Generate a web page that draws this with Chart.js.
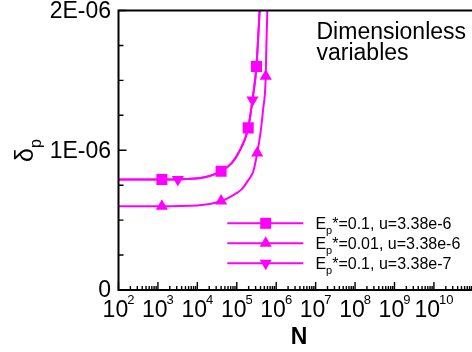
<!DOCTYPE html>
<html><head><meta charset="utf-8">
<script src="https://cdn.jsdelivr.net/npm/chart.js@4/dist/chart.umd.min.js"></script>
<style>
html,body{margin:0;padding:0;overflow:hidden;background:#fff}
#wrap{position:relative;width:560px;height:352px}
</style></head>
<body><div id="wrap"><canvas id="c"></canvas></div>
<script>
// ---------- data ----------
// Series 1: Ep*=0.1, u=3.38e-6 (squares)
const s1CurveN = [1e2, 1e3, 1.1e4, 4.0e4, 7.5e4, 1.1e5, 1.95e5, 2.5e5, 3.16e5, 3.4e5, 3.8e5];
const s1CurveD = [0.79e-6, 0.79e-6, 0.80e-6, 0.85e-6, 0.91e-6, 0.98e-6, 1.16e-6, 1.36e-6, 1.60e-6, 1.75e-6, 2.0e-6];
const s1MarkN = [1.26e3, 4.0e4, 1.95e5, 3.16e5];
const s1MarkD = [0.79e-6, 0.85e-6, 1.16e-6, 1.60e-6];
// Series 2: Ep*=0.01, u=3.38e-6 (up triangles)
const s2CurveN = [1e2, 1e3, 1e4, 4.0e4, 7.4e4, 1.32e5, 2.0e5, 2.63e5, 3.3e5, 4.0e5, 4.65e5, 5.43e5, 5.6e5, 5.96e5];
const s2CurveD = [0.60e-6, 0.60e-6, 0.605e-6, 0.636e-6, 0.672e-6, 0.72e-6, 0.79e-6, 0.85e-6, 0.98e-6, 1.126e-6, 1.29e-6, 1.53e-6, 1.72e-6, 2.0e-6];
const s2MarkN = [1.26e3, 4.0e4, 3.3e5, 5.43e5];
const s2MarkD = [0.60e-6, 0.636e-6, 0.98e-6, 1.53e-6];
// Series 3: Ep*=0.1, u=3.38e-7 (down triangles) - lies on the series 1 curve
const s3CurveN = s1CurveN;
const s3CurveD = s1CurveD;
const s3MarkN = [3.2e3, 2.5e5];
const s3MarkD = [0.79e-6, 1.36e-6];

const legendEp = ['0.1', '0.01', '0.1'];
const legendU = ['3.38e-6', '3.38e-6', '3.38e-7'];

const xLabelExps = [2, 3, 4, 5, 6, 7, 8, 9, 10];
const xTickExps = [2, 3, 4, 5, 6, 7, 8, 9, 10, 11, 12];
const yTickValues = [0, 1e-6, 2e-6];
const yTickLabels = ['0', '1E-06', '2E-06'];

// ---------- styling ----------
const FONT = "'Liberation Sans', Arial, Helvetica, sans-serif";
const MAGENTA = '#ff00ff';
const zip = (a, b) => a.map((v, i) => ({x: v, y: b[i]}));

const lineDs = (n, d) => ({data: zip(n, d), borderColor: MAGENTA, borderWidth: 2, pointRadius: 0,
  cubicInterpolationMode: 'monotone', fill: false, showLine: true});
const markDs = (n, d, style, r, rot) => ({data: zip(n, d), showLine: false, pointStyle: style,
  pointRadius: r, pointRotation: rot, backgroundColor: MAGENTA, borderColor: MAGENTA, borderWidth: 0});

const markerStyles = [
  {pointStyle: 'rect', radius: 7.8, rotation: 0},
  {pointStyle: 'triangle', radius: 7, rotation: 0},
  {pointStyle: 'triangle', radius: 7, rotation: 180}
];

const decoPlugin = {
  id: 'deco',
  afterDraw(chart) {
    const {ctx, chartArea: a, scales: {x, y}} = chart;
    ctx.save();
    // frame
    ctx.strokeStyle = '#000';
    ctx.lineWidth = 2;
    ctx.beginPath();
    ctx.moveTo(a.left - 1, a.top); ctx.lineTo(a.right, a.top);
    ctx.moveTo(a.left, a.top - 1); ctx.lineTo(a.left, a.bottom + 1);
    ctx.moveTo(a.left - 1, a.bottom); ctx.lineTo(a.right, a.bottom);
    ctx.stroke();
    // ticks
    ctx.lineWidth = 1.4;
    ctx.beginPath();
    for (const e of xTickExps) {
      for (let k = 1; k <= 9; k++) {
        const v = k * Math.pow(10, e);
        if (v > x.max) break;
        const px = x.getPixelForValue(v);
        const len = k === 1 ? 8 : 4;
        ctx.moveTo(px, a.bottom); ctx.lineTo(px, a.bottom - len);
      }
    }
    for (const t of y.ticks) {
      const py = y.getPixelForValue(t.value);
      const major = yTickValues.some(v => Math.abs(v - t.value) < 1e-12);
      ctx.moveTo(a.left, py); ctx.lineTo(a.left + (major ? 8 : 5), py);
    }
    ctx.stroke();

    ctx.fillStyle = '#000';
    // y tick labels
    ctx.font = '23px ' + FONT;
    ctx.textAlign = 'right';
    ctx.textBaseline = 'middle';
    yTickValues.forEach((v, i) => {
      ctx.fillText(yTickLabels[i], a.left - 7.5, y.getPixelForValue(v) + 1);
    });
    ctx.textBaseline = 'alphabetic';
    ctx.textAlign = 'left';
    // x tick labels 10^n
    for (const e of xLabelExps) {
      const px = x.getPixelForValue(Math.pow(10, e));
      ctx.font = '23px ' + FONT;
      const w1 = ctx.measureText('10').width;
      ctx.font = '13px ' + FONT;
      const w2 = ctx.measureText(String(e)).width;
      const start = px - (w1 + w2 - 1) / 2;
      ctx.font = '23px ' + FONT;
      ctx.fillText('10', start, 316.5);
      ctx.font = '13px ' + FONT;
      ctx.fillText(String(e), start + w1 - 1, 304);
    }
    // x title
    ctx.font = 'bold 23px ' + FONT;
    ctx.textAlign = 'center';
    ctx.fillText('N', 299, 344);
    ctx.textAlign = 'left';
    // y title (rotated)
    ctx.save();
    ctx.translate(33, 162);
    ctx.rotate(-Math.PI / 2);
    ctx.font = '25px ' + FONT;
    ctx.fillText('δ', 0, 0);
    const wd = ctx.measureText('δ').width;
    ctx.font = '16px ' + FONT;
    ctx.fillText('p', wd, 8.3);
    ctx.restore();
    // annotation
    ctx.font = '23px ' + FONT;
    ctx.fillText('Dimensionless', 316.5, 38.5);
    ctx.fillText('variables', 316.5, 59.5);
    // legend
    const rows = [223.3, 243.3, 263.3];
    for (let i = 0; i < 3; i++) {
      const ry = rows[i];
      ctx.strokeStyle = MAGENTA;
      ctx.lineWidth = 2;
      ctx.beginPath(); ctx.moveTo(227.3, ry); ctx.lineTo(303.3, ry); ctx.stroke();
      ctx.fillStyle = MAGENTA;
      const ms = markerStyles[i];
      Chart.helpers.drawPoint(ctx, {pointStyle: ms.pointStyle, radius: ms.radius, rotation: ms.rotation, borderWidth: 0}, 265.7, ry);
      ctx.fillStyle = '#000';
      let tx = 315.4;
      const by = ry + 5.2;
      ctx.font = '16px ' + FONT;
      ctx.fillText('E', tx, by);
      tx += ctx.measureText('E').width;
      ctx.font = '11px ' + FONT;
      ctx.fillText('p', tx, by + 5);
      tx += ctx.measureText('p').width;
      ctx.font = '16px ' + FONT;
      ctx.fillText('*=' + legendEp[i] + ', u=' + legendU[i], tx, by);
    }
    ctx.restore();
  }
};

new Chart(document.getElementById('c'), {
  type: 'line',
  data: {
    datasets: [
      lineDs(s1CurveN, s1CurveD),
      lineDs(s2CurveN, s2CurveD),
      lineDs(s3CurveN, s3CurveD),
      markDs(s1MarkN, s1MarkD, markerStyles[0].pointStyle, markerStyles[0].radius, markerStyles[0].rotation),
      markDs(s2MarkN, s2MarkD, markerStyles[1].pointStyle, markerStyles[1].radius, markerStyles[1].rotation),
      markDs(s3MarkN, s3MarkD, markerStyles[2].pointStyle, markerStyles[2].radius, markerStyles[2].rotation)
    ]
  },
  options: {
    responsive: true,
    maintainAspectRatio: false,
    animation: false,
    layout: {padding: {top: 10.5, right: 1.5, left: 0, bottom: 0}},
    plugins: {legend: {display: false}, tooltip: {enabled: false}},
    scales: {
      x: {
        type: 'logarithmic', min: 1e2, max: 1e13,
        grid: {display: false, drawTicks: false}, border: {display: false},
        ticks: {display: false},
        afterFit(s) { s.height = 62; }
      },
      y: {
        type: 'linear', min: 0, max: 2e-6,
        grid: {display: false, drawTicks: false}, border: {display: false},
        ticks: {display: false, stepSize: 0.25e-6, autoSkip: false},
        afterFit(s) { s.width = 118.5; }
      }
    }
  },
  plugins: [decoPlugin]
});
</script>
</body></html>
